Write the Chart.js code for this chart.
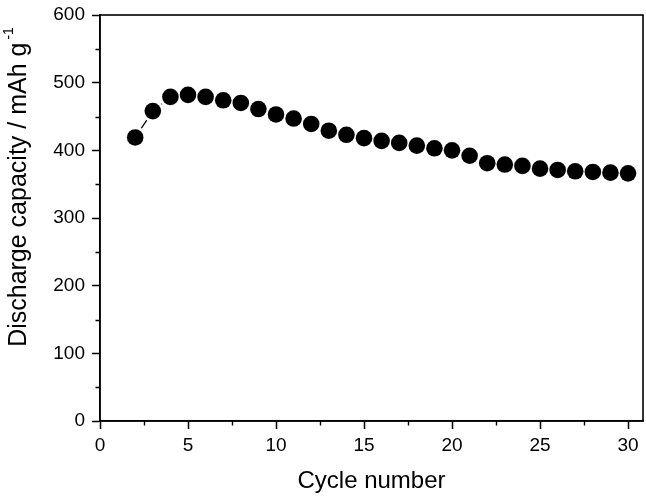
<!DOCTYPE html>
<html>
<head>
<meta charset="utf-8">
<script src="https://cdn.jsdelivr.net/npm/chart.js@4/dist/chart.umd.min.js"></script>
<style>
  html, body { margin: 0; padding: 0; background: #fff; }
  #wrap { width: 646px; height: 497px; }
</style>
</head>
<body>
<div id="wrap"><canvas id="grafico" width="646" height="497"></canvas></div>
<script>
// Capacidad de descarga por ciclo
const ciclos = [2, 3, 4, 5, 6, 7, 8, 9, 10, 11, 12, 13, 14, 15, 16, 17, 18, 19, 20, 21, 22, 23, 24, 25, 26, 27, 28, 29, 30];
const capacidad = [419, 458, 479, 482, 479, 474, 470, 461, 453, 447, 439, 429, 423, 418, 414, 411, 407, 403, 400, 392, 381, 379, 377, 373, 371, 369, 368, 367, 366];

const ticksX = [0, 5, 10, 15, 20, 25, 30];
const ticksXMenores = [2.5, 7.5, 12.5, 17.5, 22.5, 27.5];
const ticksY = [0, 100, 200, 300, 400, 500, 600];
const ticksYMenores = [50, 150, 250, 350, 450, 550];

const tituloX = 'Cycle number';
const tituloY = 'Discharge capacity / mAh g';
const tituloYSup = '-1';

const FUENTE = 'Arial, "Liberation Sans", Helvetica, sans-serif';

const puntos = ciclos.map((c, i) => ({ x: c, y: capacidad[i] }));

// Marco, ticks menores y título del eje Y (con superíndice)
const extras = {
  id: 'extras',
  afterDraw(chart) {
    const { ctx, chartArea: { left, right, top, bottom }, scales: { x, y } } = chart;
    ctx.save();
    ctx.strokeStyle = '#000';
    ctx.lineWidth = 1.6;
    ctx.strokeRect(left, top, right - left, bottom - top);

    ctx.lineWidth = 1.4;
    ctx.beginPath();
    ticksXMenores.forEach(v => {
      const px = Math.round(x.getPixelForValue(v)) + 0.5;
      ctx.moveTo(px, bottom);
      ctx.lineTo(px, bottom + 4.5);
    });
    ticksYMenores.forEach(v => {
      const py = Math.round(y.getPixelForValue(v)) + 0.5;
      ctx.moveTo(left, py);
      ctx.lineTo(left - 4.5, py);
    });
    ctx.stroke();

    // título Y rotado
    ctx.fillStyle = '#000';
    ctx.font = '25px ' + FUENTE;
    const w1 = ctx.measureText(tituloY).width;
    ctx.font = '14px ' + FUENTE;
    const w2 = ctx.measureText(tituloYSup).width;
    const total = w1 + 3 + w2;
    const centroY = 187;
    ctx.translate(25.5, centroY + total / 2);
    ctx.rotate(-Math.PI / 2);
    ctx.textBaseline = 'alphabetic';
    ctx.textAlign = 'left';
    ctx.font = '25px ' + FUENTE;
    ctx.fillText(tituloY, 0, 0);
    ctx.font = '14px ' + FUENTE;
    ctx.fillText(tituloYSup, w1 + 3, -13);
    ctx.restore();
  }
};

new Chart(document.getElementById('grafico'), {
  type: 'scatter',
  data: {
    datasets: [
      {
        // línea con huecos alrededor de los símbolos
        data: puntos,
        showLine: true,
        borderColor: '#000',
        borderWidth: 1.3,
        pointRadius: 11,
        pointBackgroundColor: '#fff',
        pointBorderWidth: 0,
        pointBorderColor: '#fff',
        tension: 0,
        order: 2
      },
      {
        data: puntos,
        showLine: false,
        pointRadius: 8.3,
        pointBackgroundColor: '#000',
        pointBorderWidth: 0,
        order: 1
      }
    ]
  },
  options: {
    responsive: false,
    animation: false,
    devicePixelRatio: 1,
    layout: { autoPadding: false, padding: { top: 15, right: 3, left: 0, bottom: 0 } },
    plugins: {
      legend: { display: false },
      tooltip: { enabled: false }
    },
    scales: {
      x: {
        type: 'linear',
        min: 0,
        max: 30.85,
        afterBuildTicks: s => { s.ticks = ticksX.map(v => ({ value: v })); },
        afterFit: s => { s.height = 76; s.paddingLeft = 0; s.paddingRight = 0; },
        grid: { drawOnChartArea: false, tickLength: 8, tickColor: '#000', tickWidth: 1.5 },
        border: { color: '#000', width: 1.6 },
        ticks: { color: '#000', padding: 5, maxRotation: 0, font: { family: FUENTE, size: 19 } },
        title: { display: true, text: tituloX, color: '#000', padding: { top: 0, bottom: 3 }, font: { family: FUENTE, size: 24, lineHeight: 1.08 } }
      },
      y: {
        type: 'linear',
        min: 0,
        max: 600,
        afterBuildTicks: s => { s.ticks = ticksY.map(v => ({ value: v })); },
        afterFit: s => { s.width = 100; s.paddingTop = 0; s.paddingBottom = 0; },
        grid: { drawOnChartArea: false, tickLength: 8, tickColor: '#000', tickWidth: 1.5 },
        border: { color: '#000', width: 1.6 },
        ticks: { color: '#000', padding: 7, font: { family: FUENTE, size: 19 } }
      }
    }
  },
  plugins: [extras]
});
</script>
</body>
</html>
